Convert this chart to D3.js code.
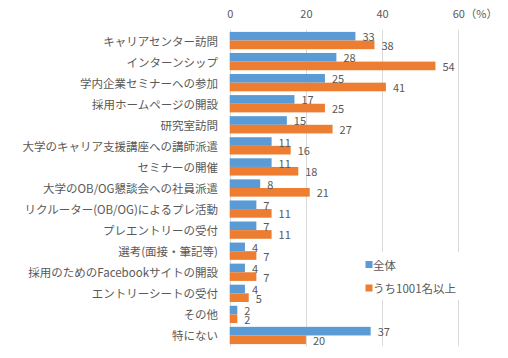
<!DOCTYPE html>
<html><head><meta charset="utf-8">
<script src="https://cdn.jsdelivr.net/npm/d3@7"></script>
<style>
body{margin:0;background:#fff;}
svg{display:block;font-family:"Noto Sans CJK JP","Noto Sans",sans-serif;}
</style></head>
<body>
<svg id="c" width="508" height="358"></svg>
<script>
const categories = ["キャリアセンター訪問","インターンシップ","学内企業セミナーへの参加","採用ホームページの開設","研究室訪問","大学のキャリア支援講座への講師派遣","セミナーの開催","大学のOB/OG懇談会への社員派遣","リクルーター(OB/OG)によるプレ活動","プレエントリーの受付","選考(面接・筆記等)","採用のためのFacebookサイトの開設","エントリーシートの受付","その他","特にない"];
const seriesNames = ["全体","うち1001名以上"];
const allValues = [33,28,25,17,15,11,11,8,7,7,4,4,4,2,37];
const largeValues = [38,54,41,25,27,16,18,21,11,11,7,7,5,2,20];
const xTicks = [0,20,40,60];
const colors = ["#5B9BD5","#ED7D31"];

const svg = d3.select("#c");
const x = d3.scaleLinear().domain([0,60]).range([229.7,458.3]);
const y = d3.scaleBand().domain(categories).range([30,346]).paddingInner(0.18).paddingOuter(0.09);
const sub = d3.scaleBand().domain(seriesNames).range([0,y.bandwidth()]);
const textColor = "#595959";

// gridlines
svg.append("g").selectAll("line").data(xTicks).join("line")
  .attr("x1",d=>Math.round(x(d))+0.5).attr("x2",d=>Math.round(x(d))+0.5)
  .attr("y1",30).attr("y2",346)
  .attr("stroke","#D9D9D9").attr("stroke-width",1);

// top axis
const axis = d3.axisTop(x).tickValues(xTicks).tickSize(0).tickPadding(0);
const ag = svg.append("g").attr("transform","translate(0,18)").call(axis);
ag.select(".domain").remove();
ag.selectAll("text").attr("fill",textColor).style("font-size","11px").style("font-family","'Noto Sans CJK JP',sans-serif");
svg.append("text").attr("x",x(60)+7).attr("y",17.5).attr("fill",textColor)
  .style("font-size","11px").text("（%）");

// category labels
svg.append("g").selectAll("text").data(categories).join("text")
  .attr("x",218).attr("y",d=>y(d)+y.bandwidth()/2)
  .attr("text-anchor","end").attr("dominant-baseline","central")
  .attr("fill",textColor).style("font-size","11.5px").text(d=>d);

const rows = categories.map((c,i)=>({c, vals:[allValues[i],largeValues[i]]}));
const g = svg.append("g").selectAll("g").data(rows).join("g")
  .attr("transform",d=>`translate(0,${y(d.c)})`);
g.selectAll("rect").data(d=>d.vals.map((v,j)=>({v,s:seriesNames[j],j}))).join("rect")
  .attr("x",x(0)).attr("y",d=>sub(d.s)).attr("width",d=>x(d.v)-x(0))
  .attr("height",sub.bandwidth()).attr("fill",d=>colors[d.j]);
g.selectAll("text").data(d=>d.vals.map((v,j)=>({v,s:seriesNames[j],j}))).join("text")
  .attr("x",d=>x(d.v)+7).attr("y",d=>sub(d.s)+sub.bandwidth()/2)
  .attr("dominant-baseline","central").attr("fill",textColor)
  .style("font-size","11px").text(d=>d.v);

// legend
const lg = svg.append("g");
lg.append("rect").attr("x",360).attr("y",252).attr("width",100).attr("height",48).attr("fill","#fff");
seriesNames.forEach((n,i)=>{
  const yy = 264.5 + i*23.5;
  lg.append("rect").attr("x",365.5).attr("y",yy-3.5).attr("width",7).attr("height",7).attr("fill",colors[i]);
  lg.append("text").attr("x",373).attr("y",yy).attr("dominant-baseline","central")
    .attr("fill",textColor).style("font-size","11.5px").text(n);
});
</script>
</body></html>
